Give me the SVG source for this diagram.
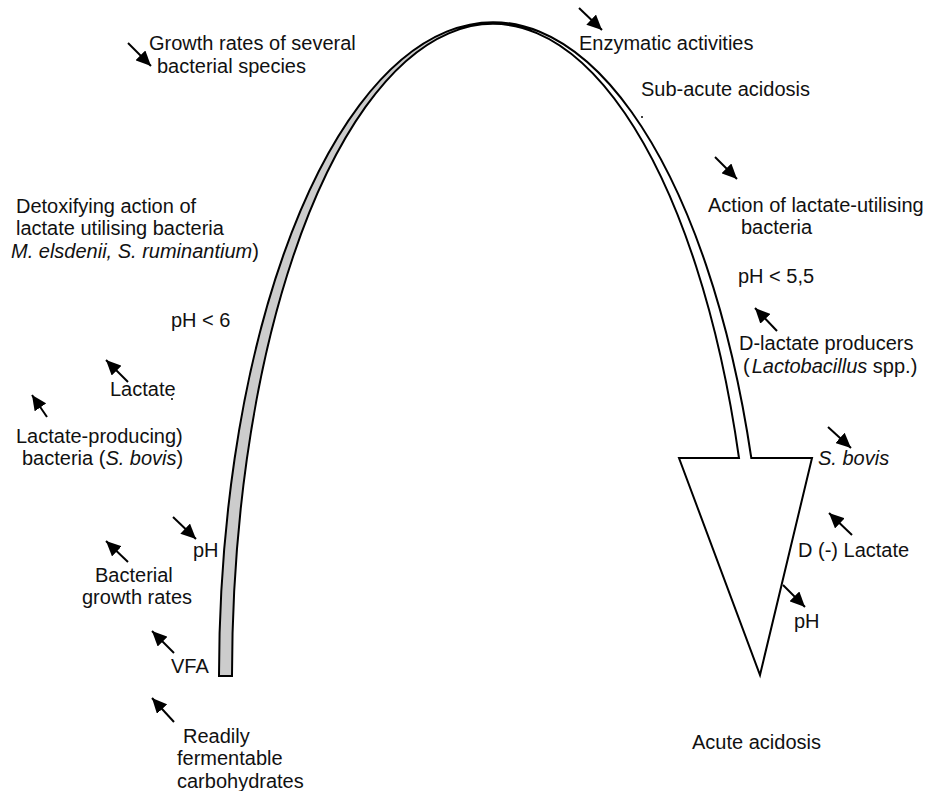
<svg xmlns="http://www.w3.org/2000/svg" width="926" height="791" viewBox="0 0 926 791">
<defs>
<style>
text{font-family:"Liberation Sans",Arial,sans-serif;font-size:20px;fill:#111}
.it{font-style:italic}
.ar{stroke:#000;stroke-width:2;fill:none;marker-end:url(#ah)}
.outline{fill:none;stroke:#000;stroke-width:2;stroke-linejoin:miter}
</style>
<marker id="ah" markerUnits="userSpaceOnUse" markerWidth="16" markerHeight="14" refX="15" refY="7" orient="auto">
<path d="M0,0 L15,7 L0,14 z" fill="#000"/>
</marker>
</defs>
<rect width="926" height="791" fill="#fff"/>
<g id="arch">
<path d="M219,676 A274,654 0 0 1 751.3,458 L812,458 L760,675 L679,458 L739,458 A261,652 0 0 0 232,676 Z" fill="#fff"/>
<path d="M219,676 A274,654 0 0 1 493,22 L493,24 A261,652 0 0 0 232,676 Z" fill="#cccccc"/>
<path class="outline" d="M219,676 A274,654 0 0 1 751.3,458 L812,458 L760,675 L679,458 L739,458 A261,652 0 0 0 232,676 Z"/>
</g>
<g id="connectors">
<line class="ar" x1="128" y1="43" x2="151" y2="66"/>
<line class="ar" x1="579" y1="8" x2="602" y2="30"/>
<line class="ar" x1="715" y1="157" x2="737" y2="179"/>
<line class="ar" x1="173" y1="517" x2="196" y2="539"/>
<line class="ar" x1="828" y1="427" x2="851" y2="448"/>
<line class="ar" x1="783" y1="585" x2="805" y2="607"/>
<line class="ar" x1="128" y1="382" x2="106" y2="360"/>
<line class="ar" x1="47" y1="417" x2="32" y2="395"/>
<line class="ar" x1="128" y1="562" x2="106" y2="541"/>
<line class="ar" x1="174" y1="653" x2="152" y2="631"/>
<line class="ar" x1="174" y1="722" x2="152" y2="698"/>
<line class="ar" x1="777" y1="331" x2="755" y2="308"/>
<line class="ar" x1="852" y1="535" x2="829" y2="513"/>
</g>
<g id="n-growth"><text x="149" y="50">Growth rates of several</text><text x="157" y="73">bacterial species</text></g>
<g id="n-enzymatic"><text x="579" y="50">Enzymatic activities</text></g>
<g id="n-subacute"><text x="641" y="96">Sub-acute acidosis</text><circle cx="642" cy="117" r="1" fill="#000"/></g>
<g id="n-detox"><text x="16" y="213">Detoxifying action of</text><text x="16" y="235">lactate utilising bacteria</text><text x="11" y="258"><tspan class="it">M. elsdenii, S. ruminantium</tspan>)</text></g>
<g id="n-ph6"><text x="171" y="327">pH &lt; 6</text></g>
<g id="n-lactate"><text x="110" y="396">Lactate</text><circle cx="172" cy="399" r="1" fill="#000"/></g>
<g id="n-lactprod"><text x="16" y="443">Lactate-producing)</text><text x="22" y="465">bacteria (<tspan class="it">S. bovis</tspan>)</text></g>
<g id="n-phleft"><text x="193" y="557">pH</text></g>
<g id="n-bactgrowth"><text x="95" y="582">Bacterial</text><text x="82" y="604">growth rates</text></g>
<g id="n-vfa"><text x="171" y="673">VFA</text></g>
<g id="n-carbs"><text x="183" y="743">Readily</text><text x="177" y="765">fermentable</text><text x="177" y="788">carbohydrates</text></g>
<g id="n-action"><text x="708" y="212">Action of lactate-utilising</text><text x="741" y="234">bacteria</text></g>
<g id="n-ph55"><text x="738" y="283">pH &lt; 5,5</text></g>
<g id="n-dlact"><text x="739" y="350">D-lactate producers</text><text x="743" y="373">(<tspan class="it" dx="2">Lactobacillus</tspan> spp.)</text></g>
<g id="n-sbovis"><text class="it" x="818" y="465">S. bovis</text></g>
<g id="n-dminus"><text x="798" y="557">D (-) Lactate</text></g>
<g id="n-phright"><text x="794" y="628">pH</text></g>
<g id="n-acute"><text x="692" y="749">Acute acidosis</text></g>
</svg>
